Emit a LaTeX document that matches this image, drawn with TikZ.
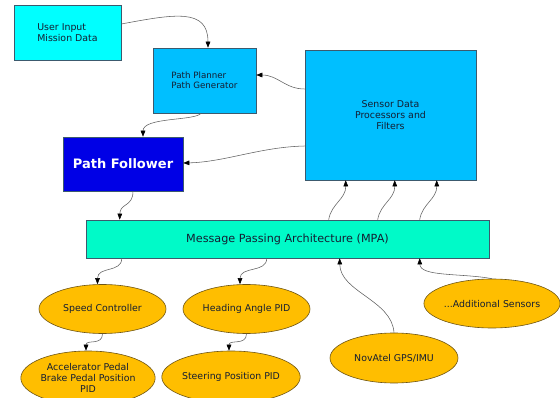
\documentclass[tikz,border=0pt]{standalone}
\usepackage{fontspec}
\setmainfont{DejaVu Sans}
\usetikzlibrary{shapes.geometric,arrows.meta,calc}
\definecolor{cuser}{RGB}{0,255,255}
\definecolor{csky}{RGB}{0,191,255}
\definecolor{cblue}{RGB}{0,0,230}
\definecolor{cmpa}{RGB}{0,250,200}
\definecolor{corange}{RGB}{255,190,0}
\definecolor{cedge}{RGB}{95,95,95}
\definecolor{cborder}{RGB}{60,90,110}
\definecolor{coval}{RGB}{110,85,20}
\definecolor{ctext}{RGB}{20,30,50}
\begin{document}
\begin{tikzpicture}[x=1pt,y=-1pt,
  box/.style={draw=cborder, line width=0.6pt, rectangle, inner sep=0pt, align=left, text=ctext},
  oval/.style={ellipse, draw=coval, line width=0.6pt, fill=corange, inner sep=0pt, align=center, text=ctext, font=\fontsize{9.4}{11}\selectfont},
  conn/.style={draw=cedge, line width=0.55pt, -{Triangle[length=6pt,width=4.6pt,color=black]}}
]
\useasboundingbox (0,0) rectangle (560,398);

% boxes
\node[box, fill=cuser, minimum width=107pt, minimum height=55pt, font=\fontsize{9.4}{11}\selectfont] (ui) at (67.5,32.5) {User Input\\Mission Data};
\node[box, fill=csky, minimum width=103pt, minimum height=65pt, font=\fontsize{8.7}{10}\selectfont] (ppl) at (204.5,80.5) {Path Planner\\Path Generator};
\node[box, fill=csky, minimum width=171pt, minimum height=130pt, align=center, font=\fontsize{9.4}{11}\selectfont] (sen) at (390.5,115) {Sensor Data\\Processors and\\Filters};
\node[box, fill=cblue, minimum width=120pt, minimum height=54pt, text=white, font=\fontsize{13}{15}\selectfont\bfseries] (pf) at (123,164) {Path Follower};
\node[box, fill=cmpa, minimum width=403pt, minimum height=38pt, font=\fontsize{11.2}{13}\selectfont] (mpa) at (287.5,239) {Message Passing Architecture (MPA)};

% ellipses
\node[oval, minimum width=127pt, minimum height=49pt] (sc) at (102.5,309) {Speed Controller};
\node[oval, minimum width=127pt, minimum height=49pt] (hd) at (246.5,309) {Heading Angle PID};
\node[oval, minimum width=128pt, minimum height=54pt] (acc) at (88,378) {Accelerator Pedal\\Brake Pedal Position\\PID};
\node[oval, minimum width=128pt, minimum height=52pt] (st) at (231,377) {Steering Position PID};
\node[oval, minimum width=128pt, minimum height=50pt] (nov) at (394,358) {NovAtel GPS/IMU};
\node[oval, minimum width=128pt, minimum height=49pt] (add) at (492,303.5) {...Additional Sensors};

% connectors
\draw[conn] ($(ui.east)+(0,-8.5)$) .. controls (175,14) and (208,8) .. ($(ppl.north)+(3.5,0)$);
\draw[conn] ($(sen.west)+(0,-26)$) .. controls (285,89) and (278,75) .. ($(ppl.east)+(0,-5.5)$);
\draw[conn] ($(sen.west)+(0,31)$) .. controls (260,147) and (225,162) .. ($(pf.east)+(0,-1)$);
\draw[conn] ($(ppl.south)+(-3.5,0)$) .. controls (195,121) and (143,117) .. ($(pf.north)+(20,0)$);
\draw[conn] ($(pf.south)+(10,0)$) .. controls (133,207) and (120,203) .. ($(mpa.north west)+(34,0)$);
\draw[conn] ($(mpa.south west)+(36,0)$) .. controls (122,273) and (97.5,266) .. ($(sc.north)+(-5,0)$);
\draw[conn] ($(mpa.south west)+(181,0)$) .. controls (267,273) and (240,266) .. ($(hd.north)+(-6.5,0)$);
\draw[conn] ($(mpa.north west)+(243,0)$) .. controls (331,204) and (346,199) .. ($(sen.south west)+(41,0)$);
\draw[conn] ($(mpa.north west)+(292,0)$) .. controls (380,204) and (395,199) .. ($(sen.south west)+(90,0)$);
\draw[conn] ($(mpa.north west)+(334,0)$) .. controls (422,204) and (437,199) .. ($(sen.south west)+(132,0)$);
\draw[conn] (nov.north) .. controls (392,300) and (340,292) .. ($(mpa.south west)+(254,0)$);
\draw[conn] (add.north) .. controls (462,273) and (420,277) .. ($(mpa.south west)+(334,0)$);
\draw[conn] (sc.south) .. controls (102.5,346) and (86,339) .. ($(acc.north)+(-2,0)$);
\draw[conn] (hd.south) .. controls (246.5,346) and (229,339) .. ($(st.north)+(-2,0)$);
\end{tikzpicture}
\end{document}
